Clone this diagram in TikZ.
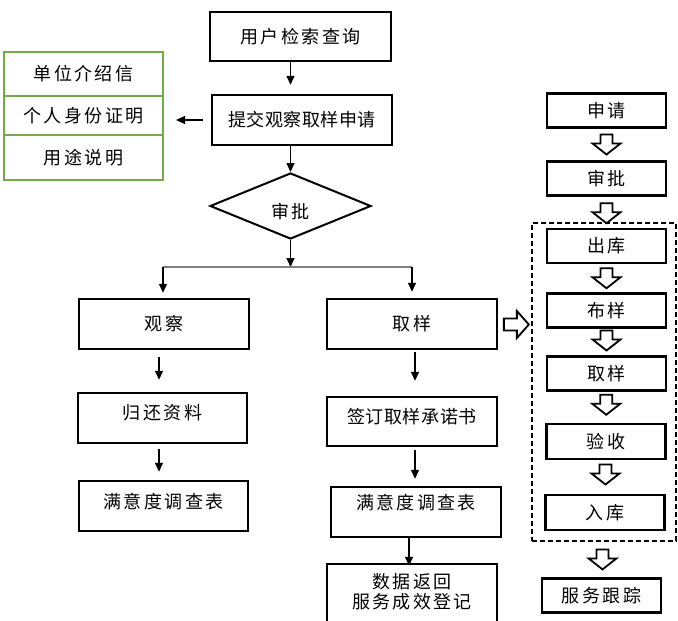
\documentclass[tikz,border=0pt]{standalone}
\usepackage{fontspec}
\newfontfamily\cjk[LetterSpace=13]{Noto Sans CJK SC}
\newfontfamily\cjkt[LetterSpace=3]{Noto Sans CJK SC}
\usetikzlibrary{arrows.meta,shapes.geometric,calc}
\definecolor{grn}{HTML}{70AD47}
\tikzset{
  every node/.style={font=\cjk\fontsize{18pt}{20pt}\selectfont},
  tight/.style={font=\cjkt\fontsize{18pt}{20pt}\selectfont},
  mainbox/.style={draw, line width=2.4pt, inner sep=0pt, minimum width=#1},
  mainbox/.default=170pt,
  sidebox/.style={draw, line width=2.4pt, inner sep=0pt, minimum width=119pt, minimum height=34pt},
  greenbox/.style={draw=grn, line width=2pt, inner sep=0pt, minimum width=159pt},
  thinarr/.style={line width=1.3pt, -{Triangle[width=8pt,length=9pt]}},
  hdown/.pic={\draw[line width=1.8pt, line join=miter, fill=white] (-6,-10) -- (6,-10) -- (6,-1) -- (14,-1) -- (0,10) -- (-14,-1) -- (-6,-1) -- cycle;},
  hright/.pic={\draw[line width=1.8pt, line join=miter, fill=white] (-12.5,-6) -- (0.5,-6) -- (0.5,-13.5) -- (12.5,0) -- (0.5,13.5) -- (0.5,6) -- (-12.5,6) -- cycle;}
}
\begin{document}
\begin{tikzpicture}[x=1pt,y=-1pt]
\useasboundingbox (0,0) rectangle (678,621);
\clip (0,0) rectangle (678,621);
% left main column
\node[mainbox=181pt, minimum height=49pt] (q1) at (300.5,36.5) {用户检索查询};
\node[mainbox=180pt, minimum height=50pt, tight] (q2) at (302,120) {提交观察取样申请};
\node[draw, shape=diamond, line width=2pt, inner sep=0pt, minimum width=161pt, minimum height=66pt, label={[yshift=-6pt]center:审批}] (dia) at (290.5,206) {};
\node[greenbox, minimum height=44pt] (g1) at (83.5,74) {单位介绍信};
\node[greenbox, minimum height=39pt] (g2) at (83.5,115.5) {个人身份证明};
\node[greenbox, minimum height=45pt] (g3) at (83.5,157.5) {用途说明};
\node[mainbox, minimum height=50pt] (obs) at (164,324) {观察};
\node[mainbox, minimum height=50pt] (smp) at (412,324) {取样};
\node[mainbox=169pt, minimum height=50pt, label={[yshift=5pt]center:归还资料}] (ret) at (162.5,418) {};
\node[mainbox=169pt, minimum height=50pt, label={[yshift=4pt]center:满意度调查表}] (sat1) at (163.5,506) {};
\node[mainbox, minimum height=49pt, label={[yshift=4.5pt, tight]center:签订取样承诺书}] (sign) at (412,421.5) {};
\node[mainbox, minimum height=50pt, label={[yshift=9pt]center:满意度调查表}] (sat2) at (416,512) {};
\node[mainbox, minimum height=76pt, label={[yshift=10pt, align=center]center:数据返回\\服务成效登记}] (data) at (412,602) {};
% connectors left
\draw[thinarr, shorten >=9pt] (dia.north |- q1.south) -- (dia.north |- q2.north);
\draw[thinarr] (dia.north |- q2.south) -- (dia.north);
\draw[thinarr, shorten <=8pt, shorten >=12pt] (q2.west) -- (g2.east |- q2.west);
\coordinate (split) at (dia.south |- 0,267);
\coordinate (lsplit) at (163,267);
\coordinate (rsplit) at (412,267);
\draw[thinarr] (dia.south) -- (split);
\draw[line width=1.4pt, gray] (lsplit) -- (rsplit);
\draw[thinarr, shorten >=5pt] (lsplit) -- (lsplit |- obs.north);
\draw[thinarr, shorten >=6pt] (rsplit) -- (rsplit |- smp.north);
\draw[thinarr, shorten <=7pt, shorten >=12pt] ([xshift=-5pt]obs.south) -- ([xshift=-5pt]obs.south |- ret.north);
\draw[thinarr, shorten <=5pt, shorten >=8pt] ([xshift=-3.5pt]ret.south) -- ([xshift=-3.5pt]ret.south |- sat1.north);
\draw[thinarr, shorten <=2pt, shorten >=15pt] ([xshift=3pt]smp.south) -- ([xshift=3pt]smp.south |- sign.north);
\draw[thinarr, shorten <=3pt, shorten >=7pt] ([xshift=3pt]sign.south) -- ([xshift=3pt]sign.south |- sat2.north);
\draw[thinarr, shorten >=-3pt] ([xshift=-7pt]sat2.south) -- ([xshift=-7pt]sat2.south |- data.north);
% right column
\node[sidebox] (r1) at (606.5,110.5) {申请};
\node[sidebox] (r2) at (606.5,178.5) {审批};
\node[draw, line width=2pt, inner sep=0pt, minimum width=144pt, minimum height=318pt, dash pattern=on 5pt off 3pt] (grp) at (603.5,381.5) {};
\node[sidebox] (r3) at (606.5,246) {出库};
\node[sidebox] (r4) at (606.5,310.5) {布样};
\node[sidebox] (r5) at (606.5,373.5) {取样};
\node[sidebox, minimum height=35pt] (r6) at (606,441.5) {验收};
\node[sidebox, minimum height=35pt] (r7) at (605,512.5) {入库};
\node[sidebox] (r8) at (601.5,595.5) {服务跟踪};
\path ($(r1.south)!0.5!(r2.north)$) pic {hdown};
\path ([yshift=-1pt]$(r2.south)!0.5!(r3.north)$) pic {hdown};
\path ($(r3.south)!0.5!(r4.north)$) pic {hdown};
\path ([yshift=1.5pt]$(r4.south)!0.5!(r5.north)$) pic {hdown};
\path ([yshift=2.5pt]$(r5.south)!0.5!(r6.north)$) pic {hdown};
\path ([yshift=2.5pt]$(r6.south)!0.5!(r7.north)$) pic {hdown};
\path ($(grp.south)!0.5!(r8.north)$) pic {hdown};
\path ([xshift=2pt,yshift=-0.5pt]$(smp.east)!0.5!(smp.east -| grp.west)$) pic {hright};
\end{tikzpicture}
\end{document}
